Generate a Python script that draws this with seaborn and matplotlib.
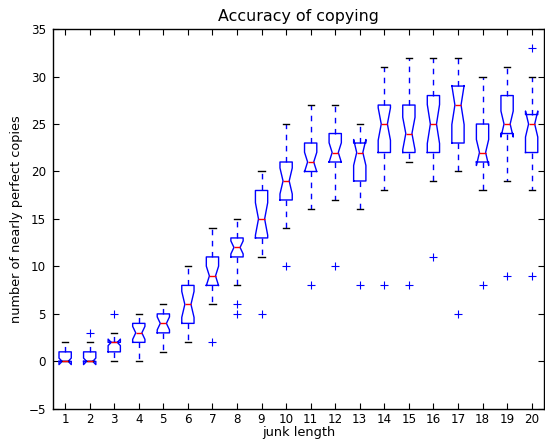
import numpy as np
import pandas as pd
import seaborn as sns
import matplotlib
matplotlib.use("Agg")
import matplotlib.pyplot as plt

# box statistics, one entry per junk length 1..20
junk_length = list(range(1, 21))
whisker_lo = [0, 0, 0, 0, 1, 2, 6, 8, 11, 14, 16, 17, 16, 18, 21, 19, 20, 18, 19, 18]
q1 = [0, 0, 1, 2, 3, 4, 8, 11, 13, 17, 20, 21, 19, 22, 22, 22, 23, 21, 24, 22]
median = [0, 0, 2, 3, 4, 6, 9, 12, 15, 19, 21, 22, 22, 25, 24, 25, 27, 22, 25, 25]
q3 = [1, 1, 2, 4, 5, 8, 11, 13, 18, 21, 23, 24, 23, 27, 27, 28, 29, 25, 28, 26]
whisker_hi = [2, 2, 3, 5, 6, 10, 14, 15, 20, 25, 27, 27, 25, 31, 32, 32, 32, 30, 31, 30]
fliers_low = [[], [], [], [], [], [], [2], [6, 5], [5], [10], [8], [10], [8], [8], [8],
              [11], [5], [8], [9], [9]]
fliers_high = [[], [3], [5], [], [], [], [], [], [], [], [], [], [], [], [], [],
               [], [], [], [33]]

# 21 samples per group so that quartiles land exactly on indices 5, 10, 15
N = 21
rows = []
for i, jl in enumerate(junk_length):
    lo_out = sorted(fliers_low[i])
    hi_out = sorted(fliers_high[i])
    vals = lo_out + [whisker_lo[i]]
    vals += [q1[i]] * (6 - len(vals))
    vals += [median[i]] * 5
    vals += [q3[i]] * (N - 1 - len(hi_out) - len(vals))
    vals += [whisker_hi[i]] + hi_out
    for v in vals:
        rows.append({"junk length": jl, "copies": v})
df = pd.DataFrame(rows)

plt.rcParams["font.family"] = ["DejaVu Sans"]
plt.rcParams["axes.unicode_minus"] = True

fig, ax = plt.subplots(figsize=(5.45, 4.41), dpi=100)
fig.subplots_adjust(left=0.097, right=0.998, bottom=0.073, top=0.934)

sns.boxplot(
    data=df, x="junk length", y="copies", ax=ax,
    notch=True, fill=False, width=0.5, whis=1.5,
    boxprops=dict(color="blue", linewidth=1.0),
    medianprops=dict(color="red", linewidth=1.0),
    whiskerprops=dict(color="blue", linewidth=1.0, linestyle=(0, (4, 4))),
    capprops=dict(color="black", linewidth=1.0),
    flierprops=dict(marker="+", markeredgecolor="blue", markersize=6,
                    markeredgewidth=0.8),
)

ax.set_ylim(-5, 35)
ax.set_yticks(np.arange(-5, 36, 5))
ax.set_xlim(-0.5, 19.5)
ax.set_title("Accuracy of copying", fontsize=11.4)
ax.set_xlabel("junk length", fontsize=9.3, labelpad=0)
ax.set_ylabel("number of nearly perfect copies", fontsize=9.3)
ax.tick_params(direction="in", top=True, right=True, length=4, labelsize=8.6)
ax.tick_params(axis="x", pad=3)
ax.tick_params(axis="y", pad=5)
for s in ax.spines.values():
    s.set_color("black")
    s.set_linewidth(1.0)

fig.savefig("out.png", dpi=100)
